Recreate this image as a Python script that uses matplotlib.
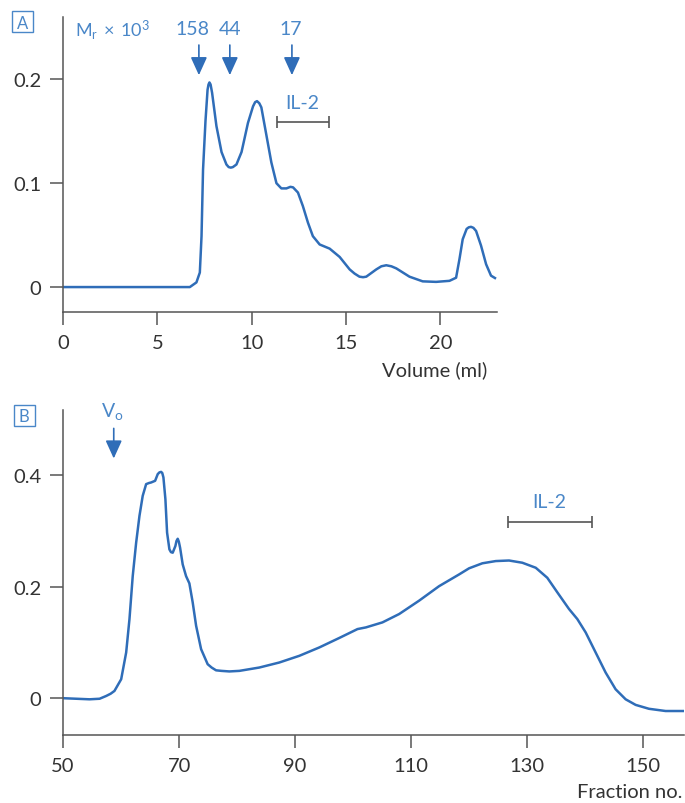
import matplotlib
matplotlib.use('Agg')
import matplotlib.pyplot as plt
from matplotlib.patches import Rectangle

plt.rcParams['font.family'] = ['Lato', 'DejaVu Sans']
plt.rcParams['mathtext.fontset'] = 'custom'
plt.rcParams['mathtext.rm'] = 'Lato'

# panel A: absorbance vs elution volume (ml)
vol_a = [0, 3, 6.0, 6.72, 7.07, 7.25, 7.34, 7.42, 7.55, 7.66, 7.71, 7.76, 7.82, 7.90,
         8.13, 8.40, 8.66, 8.78, 8.89, 9.0, 9.19, 9.46, 9.80, 10.07, 10.18, 10.28,
         10.40, 10.51, 10.78, 11.04, 11.31, 11.57, 11.84, 12.05, 12.19, 12.45,
         12.71, 12.98, 13.24, 13.60, 14.13, 14.66, 15.19, 15.45, 15.71, 15.9,
         16.07, 16.60, 16.87, 17.13, 17.40, 17.66, 18.36, 19.06, 19.77, 20.48,
         20.83, 21.01, 21.18, 21.39, 21.50, 21.62, 21.75, 21.89, 22.15, 22.42,
         22.68, 22.89]
abs_a = [0, 0, 0, 0, 0.0045, 0.014, 0.049, 0.113, 0.16, 0.19, 0.195, 0.197, 0.195,
         0.187, 0.155, 0.13, 0.118, 0.1155, 0.115, 0.1155, 0.118, 0.13, 0.158,
         0.174, 0.178, 0.179, 0.177, 0.173, 0.146, 0.12, 0.10, 0.095, 0.095,
         0.0965, 0.096, 0.091, 0.078, 0.062, 0.049, 0.041, 0.037, 0.029, 0.017,
         0.013, 0.010, 0.0095, 0.010, 0.017, 0.020, 0.021, 0.020, 0.018, 0.010,
         0.0055, 0.005, 0.006, 0.009, 0.027, 0.046, 0.056, 0.0575, 0.058, 0.057,
         0.054, 0.040, 0.022, 0.011, 0.0087]

# panel B: absorbance vs fraction number
frac_b = [50, 54.56, 56.3, 57.44, 58.2, 58.86, 60.02, 60.88, 61.45, 62.01, 62.60,
          63.17, 63.73, 64.32, 64.8, 65.18, 65.87, 66.32, 66.6, 66.90, 67.1,
          67.30, 67.64, 67.93, 68.33, 68.6, 68.90, 69.36, 69.55, 69.76, 69.95,
          70.17, 70.62, 71.20, 71.77, 72.34, 72.93, 73.79, 74.92, 75.6, 76.37,
          77.3, 78.66, 80.38, 83.82, 87.26, 90.71, 94.15, 97.59, 100.74, 102.19,
          105.04, 107.92, 111.36, 114.80, 118.24, 119.96, 122.25, 124.56, 126.85,
          129.14, 131.45, 133.44, 135.16, 137.18, 138.61, 140.05, 141.77, 143.49,
          145.21, 146.94, 148.66, 150.95, 153.82, 156.97]
abs_b = [0, -0.002, -0.001, 0.004, 0.008, 0.013, 0.034, 0.082, 0.142, 0.219, 0.279,
         0.327, 0.363, 0.384, 0.386, 0.387, 0.39, 0.402, 0.405, 0.406, 0.404,
         0.396, 0.357, 0.297, 0.267, 0.262, 0.261, 0.273, 0.282, 0.286, 0.281,
         0.27, 0.24, 0.219, 0.206, 0.172, 0.13, 0.088, 0.061, 0.055, 0.05,
         0.049, 0.048, 0.049, 0.055, 0.064, 0.076, 0.091, 0.108, 0.124, 0.127,
         0.136, 0.151, 0.175, 0.201, 0.222, 0.233, 0.242, 0.246, 0.247, 0.243,
         0.234, 0.216, 0.19, 0.16, 0.142, 0.118, 0.082, 0.046, 0.016, -0.002,
         -0.012, -0.019, -0.023, -0.023]

# molecular weight markers (x 10^3) and their elution volumes
mr_labels = ['158', '44', '17']
mr_vol = [7.2, 8.84, 12.13]
mr_text_x = [6.85, 8.84, 12.08]

il2_a = [11.36, 14.09]   # IL-2 fraction range, panel A (ml)
il2_b = [126.7, 141.2]   # IL-2 fraction range, panel B
vo_frac = 58.74          # void volume marker

blue = '#2f6db8'
tblue = '#4a87c8'
gray = '#555555'
dark = '#333333'

fig = plt.figure(figsize=(6.85, 8.04), dpi=100)
axA = fig.add_axes([0.092, 0.6107, 0.6336, 0.3669])
axB = fig.add_axes([0.092, 0.0846, 0.9066, 0.4042])

for ax in (axA, axB):
    for s in ('top', 'right'):
        ax.spines[s].set_visible(False)
    for s in ('left', 'bottom'):
        ax.spines[s].set_color(gray)
        ax.spines[s].set_linewidth(1.1)
    ax.tick_params(direction='out', length=9.5, width=1.1, color=gray,
                   labelsize=14.5, labelcolor=dark, pad=6)

arrow_kw = dict(arrowstyle='-|>,head_length=1.1,head_width=0.5', color=blue,
                lw=1.2, mutation_scale=10, shrinkA=0, shrinkB=0)

# ---- panel A
axA.plot(vol_a, abs_a, color=blue, lw=1.8)
axA.set_xlim(0, 23.0)
axA.set_ylim(-0.024, 0.26)
axA.set_xticks([0, 5, 10, 15, 20])
axA.set_yticks([0, 0.1, 0.2])
axA.set_yticklabels(['0', '0.1', '0.2'])
axA.text(0.977, -0.165, 'Volume (ml)', transform=axA.transAxes, ha='right',
         va='top', fontsize=14.5, color=dark)

axA.text(0.62, 0.2486, r'$\mathregular{M_r\/\times\/10^3}$',
         ha='left', va='center', fontsize=13, color=tblue)
for lab, xv, xt in zip(mr_labels, mr_vol, mr_text_x):
    axA.text(xt, 0.2486, lab, ha='center', va='center', fontsize=14, color=tblue)
    axA.annotate('', xy=(xv, 0.204), xytext=(xv, 0.233), arrowprops=arrow_kw)
axA.errorbar((il2_a[0] + il2_a[1]) / 2, 0.159, xerr=(il2_a[1] - il2_a[0]) / 2,
             fmt='none', ecolor=gray, elinewidth=1.2, capsize=4.5, capthick=1.2)
axA.text(12.7, 0.178, 'IL-2', ha='center', va='center', fontsize=14, color=tblue)

# ---- panel B
axB.plot(frac_b, abs_b, color=blue, lw=1.8)
axB.set_xlim(50, 157)
axB.set_ylim(-0.066, 0.517)
axB.set_xticks([50, 70, 90, 110, 130, 150])
axB.set_yticks([0, 0.2, 0.4])
axB.set_yticklabels(['0', '0.2', '0.4'])
axB.text(0.997, -0.148, 'Fraction no.', transform=axB.transAxes, ha='right',
         va='top', fontsize=14.5, color=dark)

axB.text(vo_frac - 0.2, 0.515, r'V$_\mathregular{o}$', ha='center', va='center',
         fontsize=14, color=tblue)
axB.annotate('', xy=(vo_frac, 0.43), xytext=(vo_frac, 0.484), arrowprops=arrow_kw)
axB.errorbar((il2_b[0] + il2_b[1]) / 2, 0.316, xerr=(il2_b[1] - il2_b[0]) / 2,
             fmt='none', ecolor=gray, elinewidth=1.2, capsize=4.5, capthick=1.2)
axB.text(133.8, 0.352, 'IL-2', ha='center', va='center', fontsize=14, color=tblue)

# panel letters in small boxes
for lab, x0, y0 in [('A', 12, 12), ('B', 13.5, 405.5)]:
    w = 21 / 685
    h = 21 / 804
    xf = x0 / 685
    yf = 1 - y0 / 804 - h
    fig.add_artist(Rectangle((xf, yf), w, h, transform=fig.transFigure,
                             fill=False, ec=tblue, lw=1.0))
    fig.text(xf + w / 2, yf + h / 2, lab, ha='center', va='center_baseline',
             fontsize=12, color=tblue)

fig.savefig('out.png', dpi=100)
